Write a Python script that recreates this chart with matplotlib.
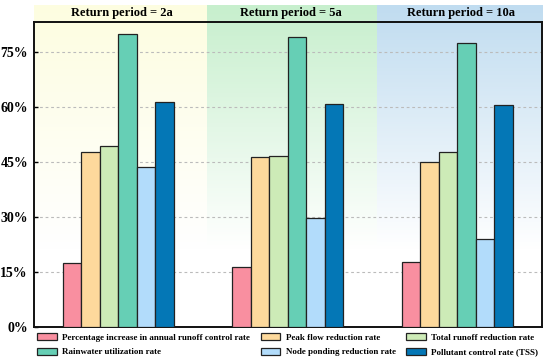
import matplotlib
matplotlib.use("Agg")
import matplotlib.pyplot as plt
import numpy as np

# ======== Dados =========
periodos = ["Return period = 2a", "Return period = 5a", "Return period = 10a"]
series = [
    "Percentage increase in annual runoff control rate",
    "Rainwater utilization rate",
    "Peak flow reduction rate",
    "Node ponding reduction rate",
    "Total runoff reduction rate",
    "Pollutant control rate (TSS)",
]
# valores em %, por série (ordem do desenho: da esquerda para a direita)
aumento_controle = [17.3, 16.2, 17.7]
pico_vazao = [47.8, 46.5, 45.1]
escoamento_total = [49.5, 46.6, 47.8]
aproveitamento = [79.9, 79.1, 77.6]
alagamento_nos = [43.5, 29.6, 23.9]
poluentes = [61.4, 61.0, 60.7]

yticks = [0, 15, 30, 45, 60, 75]

# ======== Estilo =========
plt.rcParams['font.family'] = ['Liberation Serif', 'DejaVu Serif']
plt.rcParams['font.weight'] = 'bold'

cores = ['#f98fa0', '#fdd99c', '#cdebb7', '#66cfb5', '#b2dcfb', '#0477b6']
valores = [aumento_controle, pico_vazao, escoamento_total, aproveitamento, alagamento_nos, poluentes]
nomes = [series[0], series[2], series[4], series[1], series[3], series[5]]

fig = plt.figure(figsize=(5.5, 3.59), dpi=100)

# fundo com gradiente (coordenadas em pixels da figura)
bg = fig.add_axes([0, 0, 1, 1], zorder=-1)
bg.set_xlim(0, 550)
bg.set_ylim(359, 0)
bg.axis('off')
fundos = [(33.5, 207, '#fdfde0'), (207, 377, '#c7efcd'), (377, 543, '#c0dcf0')]
for x0, x1, cor in fundos:
    rgb = np.array(matplotlib.colors.to_rgb(cor))
    t = np.linspace(0, 1, 200)[:, None]
    grad = rgb[None, :] * (1 - t) + np.ones(3)[None, :] * t
    grad = np.clip(grad, 0, 1)[:, None, :]
    bg.imshow(grad, extent=(x0, x1, 250, 5), aspect='auto', interpolation='bilinear')

ax = fig.add_axes([33.5 / 550, 32.5 / 359, 508.5 / 550, 304.5 / 359])
ax.set_facecolor('none')

x = np.arange(len(periodos))
w = 0.109
for j, (vals, cor, nome) in enumerate(zip(valores, cores, nomes)):
    ax.bar(x + (j - 2.5) * w, vals, width=w, color=cor, edgecolor='#222222',
           linewidth=0.9, label=nome, zorder=3)

ax.set_xlim(-0.5, 2.5)
ax.set_ylim(0, 83.3)
ax.set_yticks(yticks)
ax.set_yticklabels([f"{v}%" for v in yticks], fontsize=10, fontweight='bold')
ax.set_xticks([])
ax.tick_params(axis='y', direction='in', length=3, width=1, pad=4)
ax.grid(axis='y', linestyle=(0, (2.5, 2.5)), color='#bbbbbb', linewidth=0.8, zorder=0)
for s in ax.spines.values():
    s.set_linewidth(1.4)
    s.set_color('#111111')

# títulos dos períodos
for i, p in enumerate(periodos):
    ax.text(x[i] + 0.02, 1.0 + 9 / 304.5, p, transform=ax.get_xaxis_transform(),
            ha='center', va='center', fontsize=9, fontweight='bold')

# legenda: ordem para que as linhas fiquem como no original
h, l = ax.get_legend_handles_labels()
ordem = [0, 3, 1, 4, 2, 5]
fig.legend([h[k] for k in ordem], [l[k] for k in ordem], ncol=3, frameon=False,
           loc='upper left', bbox_to_anchor=(37 / 550, 26 / 359),
           borderpad=0, borderaxespad=0, handlelength=2.2,
           handleheight=0.8, handletextpad=0.6, columnspacing=1.15, labelspacing=0.7,
           prop={'weight': 'bold', 'size': 6.5})

fig.savefig("out.png", dpi=100)
